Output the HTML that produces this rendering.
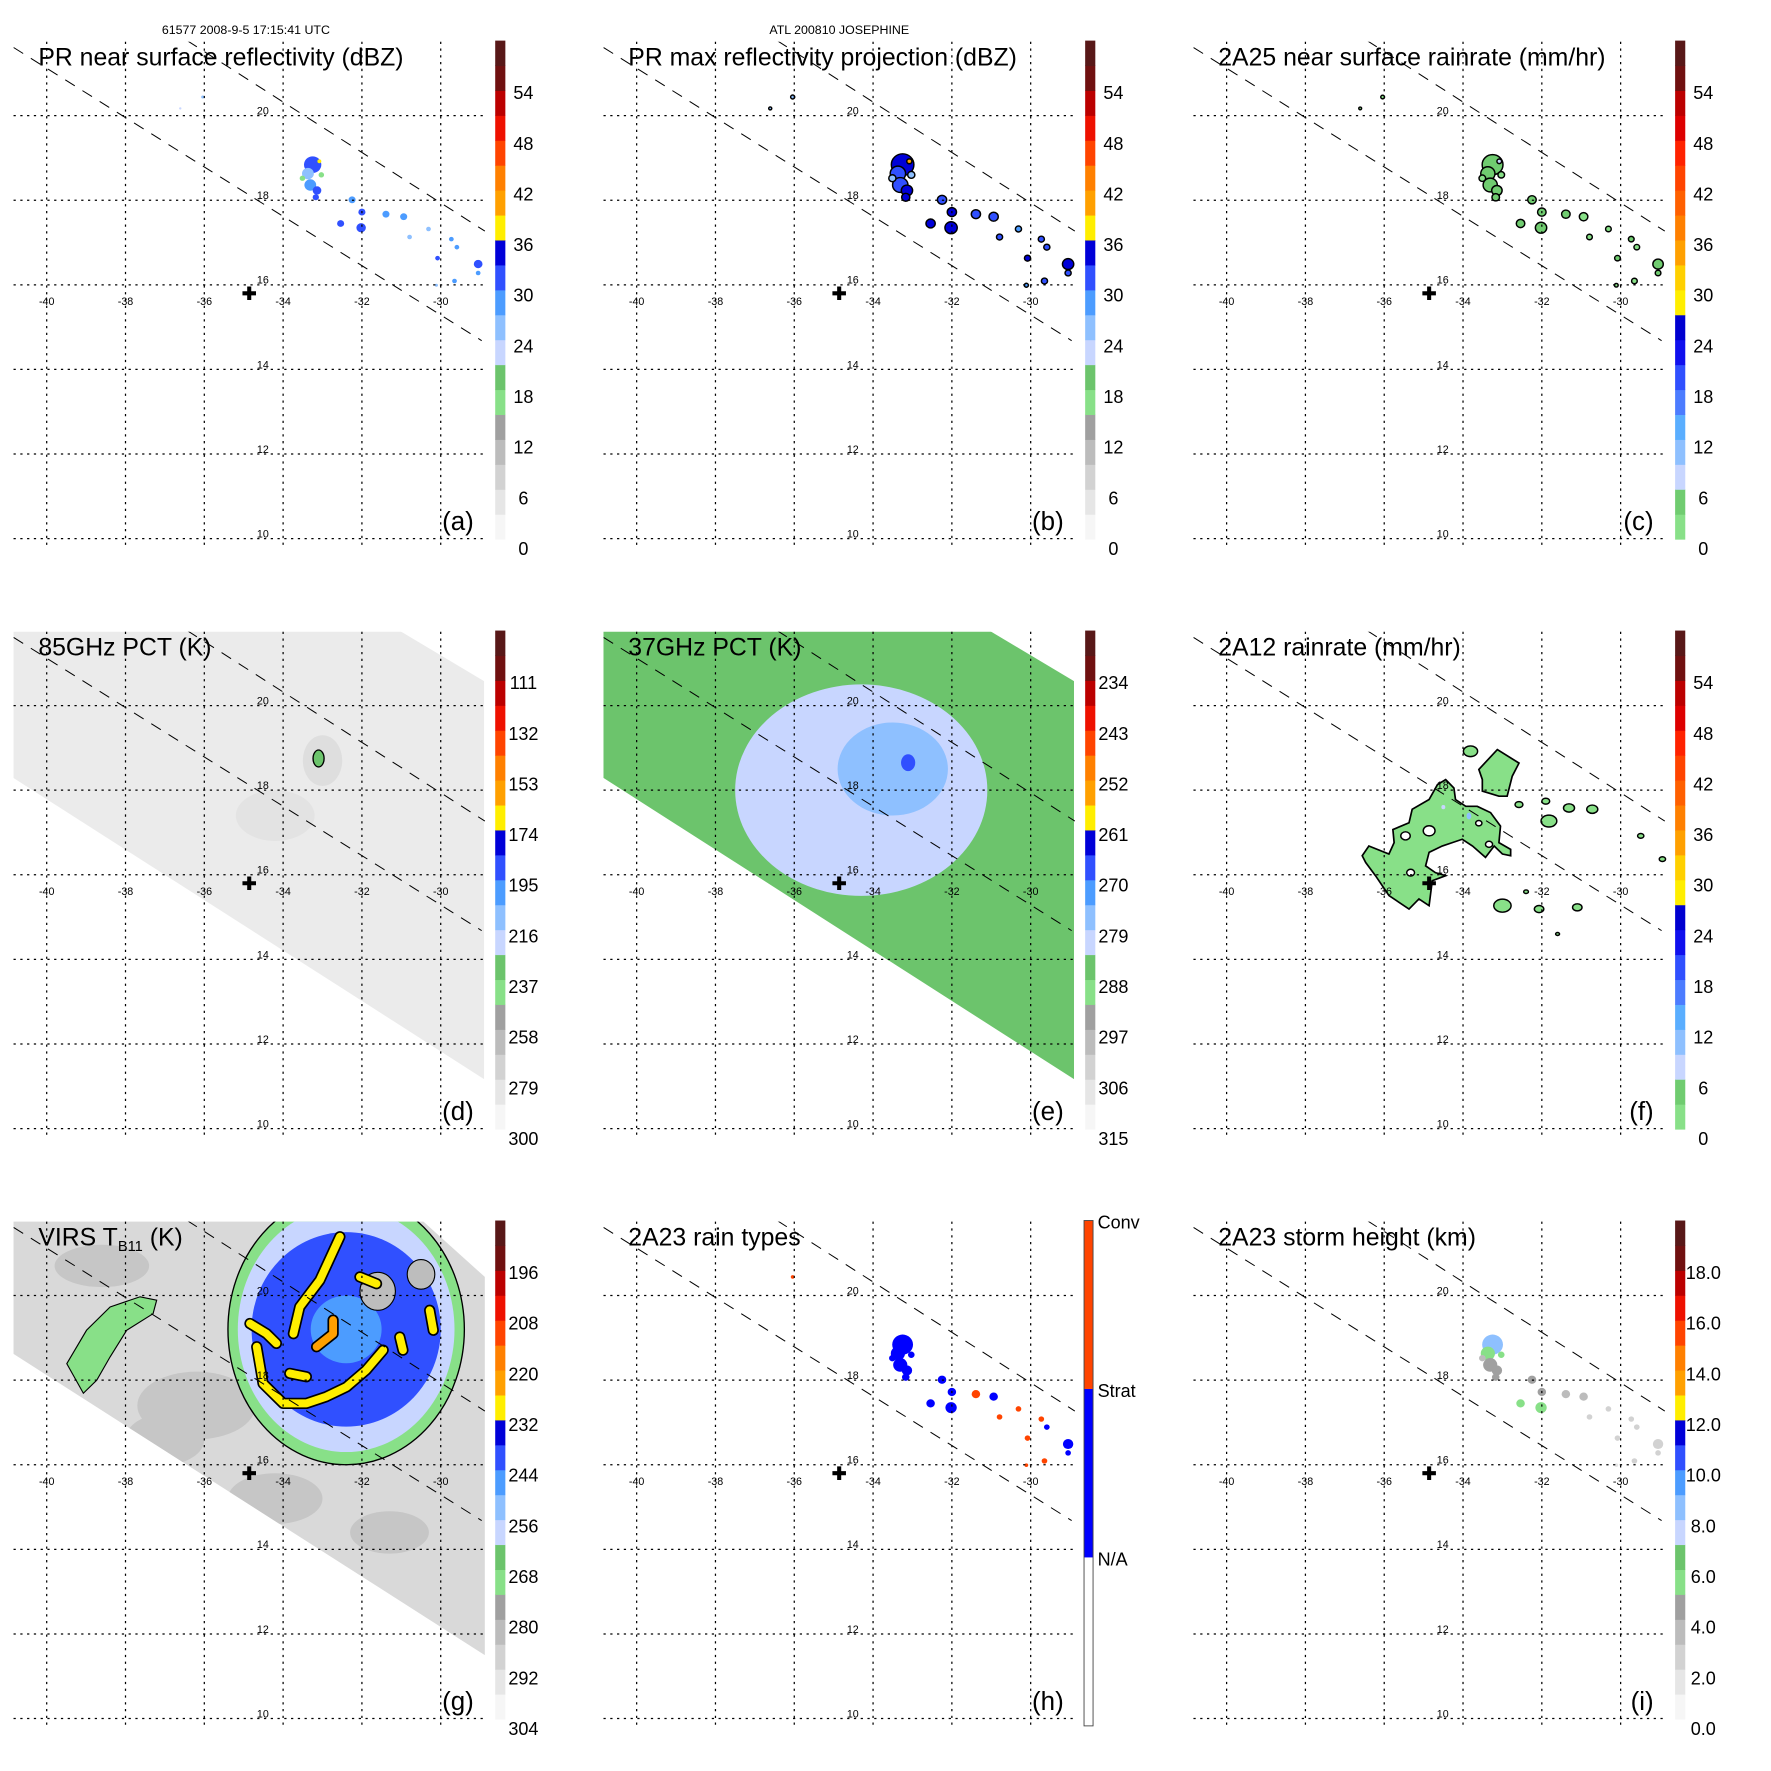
<!DOCTYPE html>
<html><head><meta charset="utf-8"><title>TRMM Josephine</title>
<style>html,body{margin:0;padding:0;background:#fff}svg{display:block;font-family:"Liberation Sans",Arial,sans-serif}</style>
</head><body>
<svg id="s" width="1771" height="1771" viewBox="0 0 1570 1570" xmlns="http://www.w3.org/2000/svg">
<rect x="0" y="0" width="1570" height="1570" fill="#fff"/>
<text x="218" y="30" font-size="11" text-anchor="middle">61577 2008-9-5 17:15:41 UTC</text>
<text x="744" y="30" font-size="11" text-anchor="middle">ATL 200810 JOSEPHINE</text>
</svg>
<script>
// ---- data ----
const gridLons=[-40,-38,-36,-34,-32,-30];
const gridLats=[10,12,14,16,18,20];
const stormLon=-34.86, stormLat=15.8;
const prEdgeALon=[-40.84,-28.96], prEdgeALat=[21.61,14.68];
const prEdgeBLon=[-36.43,-28.88], prEdgeBLat=[21.77,17.27];
const tmiSwathLon=[-40.86,-31.1,-28.9,-28.9,-40.86];
const tmiSwathLat=[21.8,21.8,20.58,11.17,18.3];
const virsSwathLon=[-40.86,-30.5,-28.88,-28.88,-40.86];
const virsSwathLat=[21.8,21.8,20.44,11.5,18.63];
const cellLon=[-33.25,-33.37,-33.08,-33.31,-33.14,-33.17,-33.51,-33.03,-32.25,-32.00,-32.02,-32.54,-31.39,-30.94,-30.31,-30.79,-29.73,-29.59,-30.08,-29.05,-29.05,-29.65,-30.11,-36.04,-36.61];
const cellLat=[18.84,18.63,18.92,18.36,18.23,18.07,18.52,18.60,18.01,17.72,17.35,17.45,17.67,17.61,17.32,17.13,17.08,16.89,16.63,16.49,16.28,16.09,15.99,20.44,20.17];
const cellRadiusDeg=[0.22,0.15,0.05,0.15,0.11,0.08,0.07,0.07,0.09,0.09,0.12,0.09,0.09,0.09,0.06,0.06,0.06,0.06,0.06,0.11,0.06,0.06,0.04,0.04,0.03];
const cellDbz=[30,26,37,28,32,30,17,17,28,31,31,30,28,27,24,26,28,27,30,30,29,28,24,24,22];
const cellMaxDbz=[34,30,39,32,34,33,24,24,31,34,34,33,31,30,28,30,31,30,33,33,32,31,28,26,24];
const cellRain=[4,3,8,3,4,3,1,1,3,4,4,3,3,2,1,2,3,2,3,3,3,2,1,1,1];
const cellType=[1,1,1,1,1,1,1,1,1,1,1,1,2,1,2,2,2,1,2,1,1,2,2,2,0];
const cellHeight=[8,5.5,8.5,4,4,4,3,5.5,4,4,5.5,5.5,3,3,2,2,2,2,2,2,2,2,1,0,0];
// 2A12 rain area
const rr12Lon=[-36.56,-36.39,-35.88,-35.75,-35.78,-35.37,-35.29,-34.86,-34.65,-34.44,-34.23,-34.19,-33.93,-33.64,-33.30,-33.05,-33.09,-32.79,-32.79,-33.00,-33.21,-33.43,-33.76,-34.02,-34.27,-34.53,-34.86,-34.95,-34.70,-34.44,-34.78,-34.86,-35.12,-35.37,-35.88,-36.22,-36.47];
const rr12Lat=[16.45,16.68,16.49,16.76,17.07,17.23,17.55,17.78,18.13,18.25,18.05,17.78,17.62,17.62,17.47,17.15,16.76,16.60,16.45,16.49,16.68,16.41,16.68,16.84,16.76,16.68,16.53,16.21,16.05,15.98,15.86,15.27,15.43,15.19,15.51,15.98,16.29];
const rr12NeLon=[-33.60,-33.13,-32.58,-32.75,-32.88,-33.09,-33.51,-33.51];
const rr12NeLat=[18.49,18.96,18.64,18.33,17.86,17.86,17.98,18.25];
const rr12HoleLon=[-35.46,-34.86,-33.60,-35.33,-33.34];
const rr12HoleLat=[16.92,17.04,17.22,16.05,16.72];
const rr12HoleR=[0.12,0.15,0.08,0.1,0.09];
const rr12SpotLon=[-33.81,-31.82,-31.31,-30.72,-31.90,-32.58,-33.0,-32.07,-31.1,-29.49,-28.94,-32.4,-31.6];
const rr12SpotLat=[18.92,17.27,17.58,17.55,17.74,17.66,15.27,15.19,15.23,16.92,16.37,15.6,14.6];
const rr12SpotR=[0.18,0.2,0.14,0.14,0.1,0.1,0.22,0.12,0.12,0.08,0.08,0.06,0.05];
// 85 GHz
const pct85Spot=[-33.1,18.75,235];
// 37 GHz
const pct37Lon=[-34.3,-33.5,-33.11], pct37Lat=[18.0,18.5,18.65], pct37T=[280,276,270], pct37Rx=[3.2,1.4,0.18], pct37Ry=[2.5,1.1,0.2];
// VIRS
const virsCore=[-32.4,19.2];
const virsRingT=[269,258,240,250];
const virsRingRx=[3.0,2.75,2.4,0.9];
const virsRingRy=[3.2,2.9,2.3,0.8];
const virsBandLon=[-39.49,-38.99,-38.39,-37.63,-37.21,-37.30,-37.97,-38.39,-38.73,-39.07];
const virsBandLat=[18.39,19.18,19.73,19.97,19.89,19.57,19.18,18.55,18.00,17.69];
const virsArms=[
 [[-34.67,18.79],[-34.51,17.92],[-34.0,17.45],[-33.41,17.45],[-32.90,17.61],[-32.39,17.84],[-31.89,18.24],[-31.46,18.71]],
 [[-34.84,19.34],[-34.42,19.10],[-34.17,18.87]],
 [[-33.74,19.10],[-33.58,19.73],[-33.07,20.36],[-32.56,21.39]],
 [[-33.15,18.79],[-32.73,19.10],[-32.73,19.42]],
 [[-32.05,20.44],[-31.63,20.28]],
 [[-30.28,19.65],[-30.19,19.18]],
 [[-31.04,19.02],[-30.96,18.71]],
 [[-33.83,18.16],[-33.41,18.08]]];
const virsArmT=[228,230,229,224,230,230,229,230];
const virsGrayLon=[-36.2,-34.2,-38.6,-31.3,-31.6,-30.5,-37.0];
const virsGrayLat=[17.4,15.2,20.7,14.4,20.1,20.5,16.6];
const virsGrayRx=[1.5,1.2,1.2,1.0,0.45,0.35,1.0];
const virsGrayRy=[0.8,0.6,0.5,0.5,0.45,0.35,0.6];
const virsGrayT=[285,285,286,286,284,284,285];
// colorbar labels
const cbDbz=['0','6','12','18','24','30','36','42','48','54'];
const cb85=['300','279','258','237','216','195','174','153','132','111'];
const cb37=['315','306','297','288','279','270','261','252','243','234'];
const cbVirs=['304','292','280','268','256','244','232','220','208','196'];
const cbHt=['0.0','2.0','4.0','6.0','8.0','10.0','12.0','14.0','16.0','18.0'];
const rainTypeLabels=['N/A','Strat','Conv'];

// ---- colormaps ----
const palStd=['#f6f6f6','#e6e6e6','#d2d2d2','#bcbcbc','#a0a0a0','#88e088','#6cc46c','#c8d6ff','#8ec0ff','#4c9cff','#3050ff','#0000d8','#ffee00','#ffa000','#ff8000','#ff4400','#ee1100','#bb0000','#701010','#581818'];
const palRain=['#88e088','#70cc70','#c8d6ff','#8ec0ff','#5aaeff','#4c7cff','#3050ff','#1010ee','#0000d0','#ffee00','#ffd000','#ffa000','#ff8000','#ff6000','#ff4400','#ff2200','#dd0000','#bb0000','#701010','#581818'];
function col(pal,v){let i=Math.floor(v/3);if(i<0)i=0;if(i>19)i=19;return pal[i];}

const NS='http://www.w3.org/2000/svg';
const svg=document.getElementById('s');
function mk(tag,attrs,parent){const e=document.createElementNS(NS,tag);for(const k in attrs)e.setAttribute(k,attrs[k]);parent.appendChild(e);return e;}

const panels=[
 {k:'a',ox:0,oy:0,title:'PR near surface reflectivity (dBZ)',pal:palStd,lab:cbDbz},
 {k:'b',ox:523,oy:0,title:'PR max reflectivity projection (dBZ)',pal:palStd,lab:cbDbz},
 {k:'c',ox:1046,oy:0,title:'2A25 near surface rainrate (mm/hr)',pal:palRain,lab:cbDbz},
 {k:'d',ox:0,oy:523,title:'85GHz PCT (K)',pal:palStd,lab:cb85},
 {k:'e',ox:523,oy:523,title:'37GHz PCT (K)',pal:palStd,lab:cb37},
 {k:'f',ox:1046,oy:523,title:'2A12 rainrate (mm/hr)',pal:palRain,lab:cbDbz},
 {k:'g',ox:0,oy:1046,title:'VIRS',pal:palStd,lab:cbVirs},
 {k:'h',ox:523,oy:1046,title:'2A23 rain types',pal:null,lab:null},
 {k:'i',ox:1046,oy:1046,title:'2A23 storm height (km)',pal:palStd,lab:cbHt}];

function X(p,lon){return p.ox+41.4+(lon+40)*34.93;}
function Y(p,lat){return p.oy+477.5-(lat-10)*37.5;}
function pts(p,lons,lats){return lons.map((l,i)=>X(p,l).toFixed(1)+','+Y(p,lats[i]).toFixed(1)).join(' ');}
function ell(p,g,lon,lat,rx,ry,fill,stroke,sw){return mk('ellipse',{cx:X(p,lon),cy:Y(p,lat),rx:rx*34.93,ry:ry*37.5,fill:fill,stroke:stroke||'none','stroke-width':sw||0},g);}

const defs=mk('defs',{},svg);

panels.forEach(p=>{
  const g=mk('g',{},svg);
  
  
  const cp=mk('clipPath',{id:'clip'+p.k},defs);
  mk('rect',{x:p.ox+12,y:p.oy+37,width:420,height:448},cp);
  const field=mk('g',{'clip-path':'url(#clip'+p.k+')'},g);
  
  

  if(p.k==='a'||p.k==='b'||p.k==='c'||p.k==='h'||p.k==='i'){
    cellLon.forEach((lon,i)=>{
      let fill,stroke='none',sw=0,sc=1;
      if(p.k==='a'){fill=col(palStd,cellDbz[i]);}
      else if(p.k==='b'){fill=col(palStd,cellMaxDbz[i]);stroke='#000';sw=1.3;sc=1.3;}
      else if(p.k==='c'){fill=col(palRain,cellRain[i]);stroke='#000';sw=1.3;sc=1.2;}
      else if(p.k==='h'){if(cellType[i]===0)return;fill=cellType[i]===2?'#ff4400':'#0000ff';sc=1.2;}
      else {if(cellHeight[i]<=0)return;fill=col(palStd,cellHeight[i]*3);sc=1.2;}
      const e=ell(p,field,lon,cellLat[i],cellRadiusDeg[i]*sc,cellRadiusDeg[i]*sc*0.9,fill,stroke,sw);
      
      
    });
  }
  if(p.k==='d'||p.k==='e'){
    const sw=mk('polygon',{points:pts(p,tmiSwathLon,tmiSwathLat),fill:p.k==='d'?'#ebebeb':col(palStd,(315-288)/1.5)},field);
    
    
    const c2=mk('clipPath',{id:'sw'+p.k},defs);
    mk('polygon',{points:pts(p,tmiSwathLon,tmiSwathLat)},c2);
    const inner=mk('g',{'clip-path':'url(#sw'+p.k+')'},field);
    if(p.k==='d'){
      ell(p,inner,-33.0,18.7,0.5,0.6,'#dedede');
      ell(p,inner,-34.2,17.4,1.0,0.6,'#e3e3e3');
      const s=ell(p,inner,pct85Spot[0],pct85Spot[1],0.14,0.2,col(palStd,(300-pct85Spot[2])/3.5),'#000',1.2);
      
      
    } else {
      pct37Lon.forEach((lon,i)=>{
        const e=ell(p,inner,lon,pct37Lat[i],pct37Rx[i],pct37Ry[i],col(palStd,(315-pct37T[i])/1.5));
        
        
      });
    }
  }
  if(p.k==='f'){
    const a=mk('polygon',{points:pts(p,rr12Lon,rr12Lat),fill:col(palRain,2),stroke:'#000','stroke-width':1.5},field);
    
    
    const b=mk('polygon',{points:pts(p,rr12NeLon,rr12NeLat),fill:col(palRain,2),stroke:'#000','stroke-width':1.5},field);
    
    
    rr12HoleLon.forEach((lon,i)=>{const e=ell(p,field,lon,rr12HoleLat[i],rr12HoleR[i],rr12HoleR[i]*0.8,'#fff','#000',1.3);
      
      });
    rr12SpotLon.forEach((lon,i)=>{const e=ell(p,field,lon,rr12SpotLat[i],rr12SpotR[i],rr12SpotR[i]*0.7,col(palRain,2),'#000',1.3);
      
      });
    ell(p,field,-33.85,17.39,0.06,0.08,col(palRain,10));
    ell(p,field,-34.5,17.6,0.05,0.05,col(palRain,8));
  }
  if(p.k==='g'){
    const sw=mk('polygon',{points:pts(p,virsSwathLon,virsSwathLat),fill:'#d9d9d9'},field);
    
    
    const c2=mk('clipPath',{id:'swg'},defs);
    mk('polygon',{points:pts(p,virsSwathLon,virsSwathLat)},c2);
    const inner=mk('g',{'clip-path':'url(#swg)'},field);
    virsGrayLon.forEach((lon,i)=>{if(i>=4&&i<=5)return;ell(p,inner,lon,virsGrayLat[i],virsGrayRx[i],virsGrayRy[i],'#c6c6c6');});
    const band=mk('polygon',{points:pts(p,virsBandLon,virsBandLat),fill:col(palStd,(304-269)*0.5),stroke:'#000','stroke-width':1},inner);
    
    
    virsRingT.forEach((t,i)=>{const e=ell(p,inner,virsCore[0],virsCore[1],virsRingRx[i],virsRingRy[i],col(palStd,(304-t)*0.5),i===0?'#000':'none',i===0?1.2:0);
      
      });
    virsGrayLon.forEach((lon,i)=>{if(i<4||i>5)return;ell(p,inner,lon,virsGrayLat[i],virsGrayRx[i],virsGrayRy[i],'#bdbdbd','#000',1);});
    virsArms.forEach((arm,i)=>{
      const lo=arm.map(q=>q[0]),la=arm.map(q=>q[1]);
      mk('polyline',{points:pts(p,lo,la),fill:'none',stroke:'#000','stroke-width':10,'stroke-linecap':'round','stroke-linejoin':'round'},inner);
      const l=mk('polyline',{points:pts(p,lo,la),fill:'none',stroke:col(palStd,(304-virsArmT[i])*0.5),'stroke-width':7,'stroke-linecap':'round','stroke-linejoin':'round'},inner);
      
      
    });
  }

  // grid
  const grid=mk('g',{stroke:'#000','stroke-width':1.1,'stroke-dasharray':'2,4'},g);
  
  
  gridLons.forEach(l=>mk('line',{x1:X(p,l),x2:X(p,l),y1:p.oy+37,y2:p.oy+485},grid));
  gridLats.forEach(l=>mk('line',{x1:p.ox+12,x2:p.ox+432,y1:Y(p,l),y2:Y(p,l)},grid));
  // PR swath edges
  const sw=mk('g',{stroke:'#000','stroke-width':0.9,'stroke-dasharray':'10,8','clip-path':'url(#clip'+p.k+')'},g);
  
  
  mk('line',{x1:X(p,prEdgeALon[0]),y1:Y(p,prEdgeALat[0]),x2:X(p,prEdgeALon[1]),y2:Y(p,prEdgeALat[1])},sw);
  mk('line',{x1:X(p,prEdgeBLon[0]),y1:Y(p,prEdgeBLat[0]),x2:X(p,prEdgeBLon[1]),y2:Y(p,prEdgeBLat[1])},sw);
  // labels
  gridLons.forEach(l=>{const t=mk('text',{x:X(p,l),y:Y(p,16)+18,'font-size':9.5,'text-anchor':'middle'},g);t.textContent=String(l);
    
    });
  gridLats.forEach(l=>{const t=mk('text',{x:p.ox+233,y:Y(p,l)-1,'font-size':9.5,'text-anchor':'middle'},g);t.textContent=String(l);
    
    });
  // storm centre
  const cx=X(p,stormLon),cy=Y(p,stormLat);
  const cr=mk('path',{d:`M${cx-6},${cy}H${cx+6}M${cx},${cy-6}V${cy+6}`,stroke:'#000','stroke-width':3.6},g);
  
  
  // title
  const tt=mk('text',{x:p.ox+34,y:p.oy+58,'font-size':22},g);
  
  
  if(p.k==='g'){tt.textContent='VIRS T';const s=mk('tspan',{'font-size':13,dy:5},tt);s.textContent='B11';const s2=mk('tspan',{dy:-5},tt);s2.textContent='  (K)';}
  else tt.textContent=p.title;
  const lt=mk('text',{x:p.ox+420,y:p.oy+470,'font-size':23,'text-anchor':'end'},g);
  lt.textContent='('+p.k+')';
  
  
  // colorbar
  const cb=mk('g',{},g);
  
  
  if(p.pal){
    const h=442/20;
    p.pal.forEach((c,i)=>mk('rect',{x:p.ox+439,y:p.oy+478-(i+1)*h,width:9,height:h+0.4,fill:c},cb));
    p.lab.forEach((s,i)=>{const t=mk('text',{x:p.ox+464,y:p.oy+492-i*44.9,'font-size':16,'text-anchor':'middle'},cb);t.textContent=s;
      
      });
  } else {
    const h=448/3;
    ['#ffffff','#0000ff','#ff4400'].forEach((c,i)=>mk('rect',{x:p.ox+438,y:p.oy+484-(i+1)*h,width:8,height:h,fill:c},cb));
    mk('rect',{x:p.ox+438,y:p.oy+36,width:8,height:448,fill:'none',stroke:'#444','stroke-width':0.8},cb);
    rainTypeLabels.forEach((s,i)=>{const t=mk('text',{x:p.ox+450,y:p.oy+484-(i+1)*h+7,'font-size':16},cb);t.textContent=s;
      
      });
  }
});
</script>
</body></html>
